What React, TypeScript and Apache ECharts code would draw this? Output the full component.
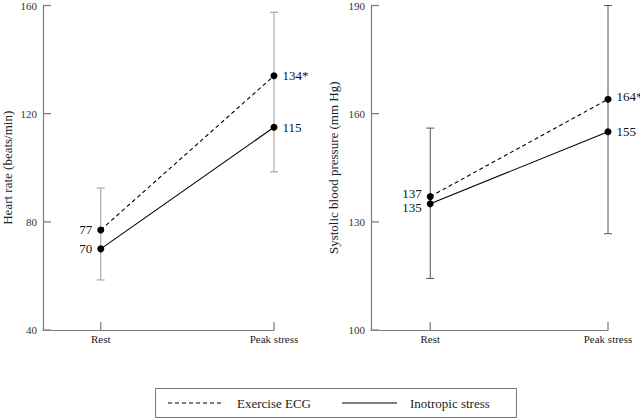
import React, { useEffect, useRef } from "react";
import * as echarts from "echarts";

const categories = ["", "Rest", "", "", "Peak stress"];
const restIdx = 1;
const peakIdx = 4;

// Heart rate panel
const hrExercise = [77, 134];
const hrInotropic = [70, 115];
const hrExerciseLabels = ["77", "134*"];
const hrInotropicLabels = ["70", "115"];
const hrErrLow = [58.5, 98.5];
const hrErrHigh = [92.5, 157.5];
const hrTicks = [40, 80, 120, 160];

// Systolic blood pressure panel
const sbpExercise = [137, 164];
const sbpInotropic = [135, 155];
const sbpExerciseLabels = ["137", "164*"];
const sbpInotropicLabels = ["135", "155"];
const sbpErrLow = [114.3, 126.7];
const sbpErrHigh = [156, 190];
const sbpTicks = [100, 130, 160, 190];

const legendNames = ["Exercise ECG", "Inotropic stress"];

const FONT = "Liberation Serif";
const AXIS_COLOR = "#808080";

export default function App() {
  const ref = useRef<HTMLDivElement>(null);

  useEffect(() => {
    if (!ref.current) return;
    const chart = echarts.init(ref.current, undefined, { renderer: "svg" });
    const xIdx = [restIdx, peakIdx];
    const showIdx = (i: number) => i === restIdx || i === peakIdx;

    const xAxisCfg = (gridIndex: number) => ({
      type: "category",
      gridIndex,
      data: categories,
      boundaryGap: false,
      axisLine: { show: true, lineStyle: { color: AXIS_COLOR, width: 1 } },
      axisTick: { show: false },
      axisLabel: {
        interval: (i: number) => showIdx(i),
        fontFamily: FONT,
        fontSize: 11,
        color: "#222",
        margin: 3,
      },
      splitLine: { show: false },
    });

    const yAxisCfg = (
      gridIndex: number,
      min: number,
      max: number,
      ticks: number[],
      name: string,
      nameGap: number
    ) => ({
      type: "value",
      gridIndex,
      min,
      max,
      name,
      nameLocation: "middle",
      nameGap,
      nameTextStyle: { fontFamily: FONT, fontSize: 13, color: "#222" },
      axisLine: { show: false },
      axisTick: { show: false },
      axisLabel: {
        customValues: ticks,
        fontFamily: FONT,
        fontSize: 11,
        color: "#333",
        margin: 6,
      },
      splitLine: { show: false },
    });

    // Error bars; the first item also draws the axis frame (y-axis line, inward ticks)
    const errSeries = (
      idx: number,
      low: number[],
      high: number[],
      color: string,
      yMin: number,
      yMax: number,
      ticks: number[]
    ) => ({
      type: "custom",
      xAxisIndex: idx,
      yAxisIndex: idx,
      z: 1,
      silent: true,
      data: xIdx.map((x, i) => [x, low[i], high[i]]),
      renderItem: (params: any, api: any) => {
        const x = api.value(0);
        const top = api.coord([x, api.value(2)]);
        const bot = api.coord([x, api.value(1)]);
        const cap = 4;
        const style = { stroke: color, lineWidth: 1 };
        const children: any[] = [
          { type: "line", shape: { x1: top[0], y1: top[1], x2: bot[0], y2: bot[1] }, style },
          { type: "line", shape: { x1: top[0] - cap, y1: top[1], x2: top[0] + cap, y2: top[1] }, style },
          { type: "line", shape: { x1: bot[0] - cap, y1: bot[1], x2: bot[0] + cap, y2: bot[1] }, style },
        ];
        const axisStyle = { stroke: AXIS_COLOR, lineWidth: 1.3 };
        const len = 8;
        // inward x tick at this category
        const q = api.coord([x, yMin]);
        children.push({ type: "line", shape: { x1: q[0], y1: q[1], x2: q[0], y2: q[1] - len }, style: axisStyle });
        if (params.dataIndex === 0) {
          const a = api.coord([0, yMin]);
          const b = api.coord([0, yMax]);
          children.push({ type: "line", shape: { x1: a[0] + 0.5, y1: a[1], x2: b[0] + 0.5, y2: b[1] }, style: axisStyle });
          ticks.forEach((t) => {
            const p = api.coord([0, t]);
            children.push({ type: "line", shape: { x1: p[0], y1: p[1], x2: p[0] + len, y2: p[1] }, style: axisStyle });
          });
        }
        return { type: "group", children };
      },
    });

    const lineSeries = (
      idx: number,
      name: string,
      values: number[],
      labels: string[],
      dashed: boolean,
      labelOffsets: number[][]
    ) => ({
      type: "line",
      name,
      xAxisIndex: idx,
      yAxisIndex: idx,
      z: 3,
      symbol: "circle",
      symbolSize: 7,
      itemStyle: { color: "#000" },
      lineStyle: { color: "#000", width: 1.1, type: dashed ? [4, 3] : "solid" },
      data: xIdx.map((x, i) => ({
        value: [x, values[i]],
        label: {
          show: true,
          position: i === 0 ? "left" : "right",
          distance: 5,
          offset: labelOffsets[i],
          formatter: labels[i],
          fontFamily: FONT,
          fontSize: 13,
          color: "#111",
        },
      })),
    });

    chart.setOption({
      animation: false,
      backgroundColor: "#fff",
      textStyle: { fontFamily: FONT },
      grid: [
        { left: 37, top: 4.5, width: 237, height: 325.5 },
        { left: 371, top: 4.5, width: 237, height: 325.5 },
      ],
      xAxis: [xAxisCfg(0), xAxisCfg(1)],
      yAxis: [
        yAxisCfg(0, 40, 160, hrTicks, "Heart rate (beats/min)", 29),
        yAxisCfg(1, 100, 190, sbpTicks, "Systolic blood pressure (mm Hg)", 31),
      ],
      series: [
        errSeries(0, hrErrLow, hrErrHigh, "#9a9a9a", 40, 160, hrTicks),
        errSeries(1, sbpErrLow, sbpErrHigh, "#555", 100, 190, sbpTicks),
        lineSeries(0, legendNames[0], hrExercise, hrExerciseLabels, true, [[0, 0], [0, 0]]),
        lineSeries(0, legendNames[1], hrInotropic, hrInotropicLabels, false, [[0, 0], [0, 0]]),
        lineSeries(1, legendNames[0], sbpExercise, sbpExerciseLabels, true, [[0, -3], [0, -3]]),
        lineSeries(1, legendNames[1], sbpInotropic, sbpInotropicLabels, false, [[0, 4], [0, 0]]),
      ],
      graphic: [
        {
          type: "rect",
          shape: { x: 155.5, y: 388.5, width: 361, height: 29 },
          style: { fill: "none", stroke: "#777", lineWidth: 1 },
        },
        {
          type: "line",
          shape: { x1: 168, y1: 403, x2: 222, y2: 403 },
          style: { stroke: "#000", lineWidth: 1, lineDash: [4, 3] },
        },
        {
          type: "text",
          x: 237,
          y: 403,
          style: { text: legendNames[0], fontFamily: FONT, fontSize: 13, fill: "#222", verticalAlign: "middle" },
        },
        {
          type: "line",
          shape: { x1: 342, y1: 403, x2: 397, y2: 403 },
          style: { stroke: "#000", lineWidth: 1.1 },
        },
        {
          type: "text",
          x: 410,
          y: 403,
          style: { text: legendNames[1], fontFamily: FONT, fontSize: 13, fill: "#222", verticalAlign: "middle" },
        },
      ],
    });

    return () => chart.dispose();
  }, []);

  return (
    <div
      ref={ref}
      style={{ position: "fixed", left: 0, top: 0, width: 640, height: 418 }}
    />
  );
}
